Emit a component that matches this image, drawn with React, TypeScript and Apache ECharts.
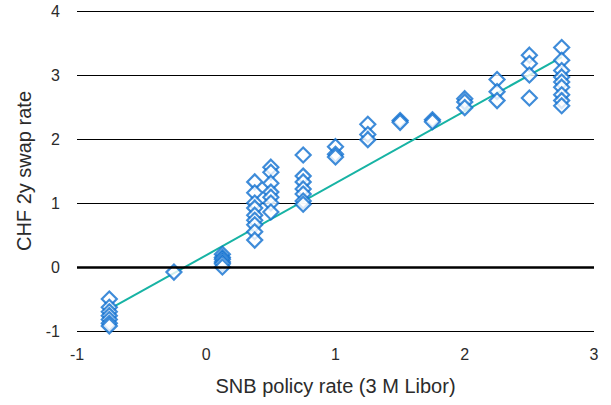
import React, { useEffect, useRef } from "react";
import * as echarts from "echarts";

// Scatter observations: [SNB policy rate, CHF 2y swap rate]
const xValues: number[] = [
  -0.75, -0.75, -0.75, -0.75, -0.75, -0.75, -0.75,
  -0.25,
  0.125, 0.125, 0.125, 0.125, 0.125, 0.125,
  0.375, 0.375, 0.375, 0.375, 0.375, 0.375, 0.375, 0.375, 0.375,
  0.5, 0.5, 0.5, 0.5, 0.5, 0.5, 0.5,
  0.75, 0.75, 0.75, 0.75, 0.75, 0.75, 0.75,
  1.0, 1.0, 1.0,
  1.25, 1.25, 1.25,
  1.5, 1.5,
  1.75, 1.75,
  2.0, 2.0, 2.0,
  2.25, 2.25, 2.25,
  2.5, 2.5, 2.5, 2.5,
  2.75, 2.75, 2.75, 2.75, 2.75, 2.75, 2.75, 2.75, 2.75,
];
const yValues: number[] = [
  -0.5, -0.63, -0.7, -0.76, -0.82, -0.88, -0.92,
  -0.08,
  0.2, 0.15, 0.12, 0.08, 0.05, 0.0,
  1.33, 1.16, 1.0, 0.92, 0.81, 0.73, 0.66, 0.55, 0.42,
  1.56, 1.48, 1.31, 1.17, 1.09, 1.0, 0.86,
  1.75, 1.42, 1.33, 1.22, 1.14, 1.03, 0.98,
  1.88, 1.76, 1.72,
  2.23, 2.07, 1.99,
  2.29, 2.26,
  2.3, 2.27,
  2.63, 2.58, 2.49,
  2.93, 2.74, 2.6,
  3.31, 3.18, 3.0, 2.64,
  3.43, 3.23, 3.07, 2.97, 2.89, 2.81, 2.69, 2.6, 2.52,
];

// Fitted regression line endpoints
const fitX: number[] = [-0.75, 2.75];
const fitY: number[] = [-0.66, 3.28];

const xTitle = "SNB policy rate (3 M Libor)";
const yTitle = "CHF 2y swap rate";

const FONT = "Liberation Sans";
const TEXT_COLOR = "#2b2b2b";

export default function App() {
  const ref = useRef<HTMLDivElement>(null);

  useEffect(() => {
    if (!ref.current) return;
    const chart = echarts.init(ref.current, undefined, { renderer: "svg" });
    const scatterData = xValues.map((x, i) => [x, yValues[i]]);
    const fitData = fitX.map((x, i) => [x, fitY[i]]);
    chart.setOption({
      animation: false,
      backgroundColor: "#ffffff",
      grid: { left: 77, right: 17, top: 11, bottom: 74, containLabel: false },
      xAxis: {
        type: "value",
        min: -1,
        max: 3,
        interval: 1,
        name: xTitle,
        nameLocation: "middle",
        nameGap: 45,
        nameTextStyle: { fontFamily: FONT, fontSize: 20, color: TEXT_COLOR },
        axisLine: { show: false },
        axisTick: { show: false },
        splitLine: { show: false },
        axisLabel: { fontFamily: FONT, fontSize: 16, color: TEXT_COLOR, margin: 15 },
      },
      yAxis: {
        type: "value",
        min: -1,
        max: 4,
        interval: 1,
        name: yTitle,
        nameLocation: "middle",
        nameGap: 43,
        nameTextStyle: { fontFamily: FONT, fontSize: 20, color: TEXT_COLOR },
        axisLine: { show: false },
        axisTick: { show: false },
        splitLine: { show: true, lineStyle: { color: "#000000", width: 1 } },
        axisLabel: { fontFamily: FONT, fontSize: 16, color: TEXT_COLOR, margin: 17 },
      },
      series: [
        {
          type: "line",
          data: fitData,
          symbol: "none",
          lineStyle: { color: "#17b3a4", width: 2 },
          z: 3,
          markLine: {
            silent: true,
            symbol: "none",
            label: { show: false },
            lineStyle: { color: "#000000", width: 2.5, type: "solid" },
            data: [{ yAxis: 0 }],
          },
        },
        {
          type: "scatter",
          data: scatterData,
          symbol: "diamond",
          symbolSize: [15, 15],
          itemStyle: { color: "#ffffff", borderColor: "#0f6fd0", borderWidth: 2.2 },
          z: 4,
        },
      ],
    });
    return () => chart.dispose();
  }, []);

  return <div ref={ref} style={{ width: 611, height: 405, position: "absolute", left: 0, top: 0 }} />;
}
